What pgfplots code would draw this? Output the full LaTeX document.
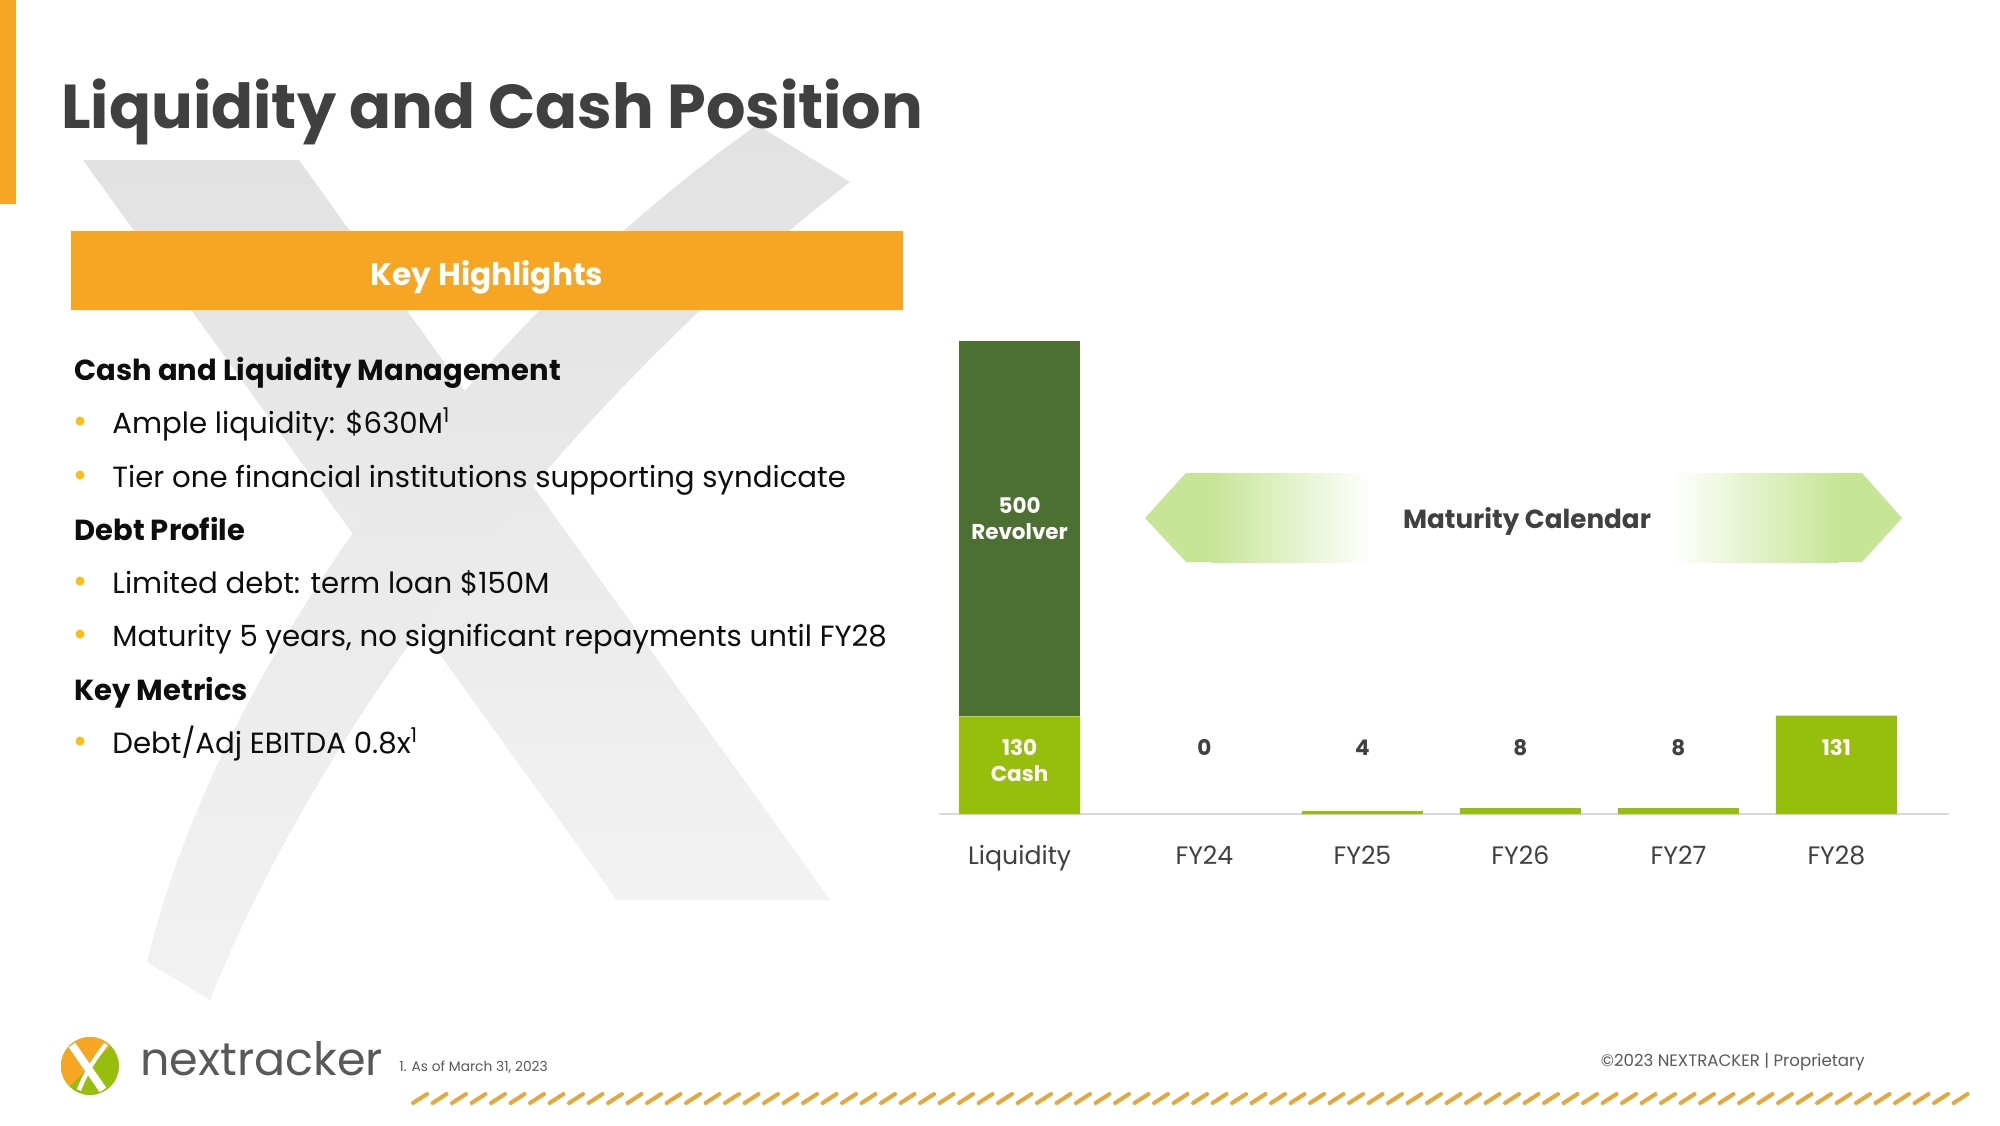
\documentclass[border=0pt]{standalone}
\usepackage{pgfplots}
\pgfplotsset{compat=1.18}
\usepackage{fontspec}
\setmainfont{Poppins}
\definecolor{nxorange}{RGB}{246,166,35}
\definecolor{bulletc}{RGB}{252,190,20}
\definecolor{darkgreen}{RGB}{76,112,50}
\definecolor{lightgreen}{RGB}{151,190,13}
\definecolor{arrowgreen}{RGB}{198,229,150}
\definecolor{titlegray}{RGB}{64,64,64}
\definecolor{textblack}{RGB}{13,13,13}
\definecolor{footgray}{RGB}{89,89,89}
\definecolor{wmtop}{RGB}{226,226,226}
\definecolor{wmbot}{RGB}{242,242,242}
\definecolor{hatchc}{RGB}{230,168,58}
\definecolor{axisgray}{RGB}{217,217,217}
\newcommand{\hfont}{\fontsize{14.5pt}{17pt}\selectfont\bfseries}
\newcommand{\bfont}{\fontsize{14.6pt}{17pt}\selectfont}
\newcommand{\lfont}{\fontsize{10.75pt}{12.85pt}\selectfont\bfseries}
\begin{document}
\begin{tikzpicture}
\path[use as bounding box] (0pt,0pt) rectangle (1000pt,-562.5pt);
\fill[white] (0pt,0pt) rectangle (1000pt,-562.5pt);
\begin{scope}[x=0.5pt,y=-0.5pt]
  % watermark X
  \shade[top color=wmtop,bottom color=wmbot] (83,160)--(299,160)--(830,900)--(617,900)--cycle;
  \shade[top color=wmtop,bottom color=wmbot] (757,125)--(850,182) .. controls (590,382) and (330,700) .. (210,1000) -- (147,962) .. controls (219,662) and (473,325) .. (757,125) -- cycle;
  % left strip and title
  \fill[nxorange] (0,0) rectangle (16,204);
  \node[anchor=base west, inner sep=0, text=titlegray, font=\fontsize{31pt}{31pt}\selectfont\bfseries] at (61,128) {Liquidity and Cash Position};
  % key highlights box
  \fill[nxorange] (71,231) rectangle (903,310);
  \node[anchor=base, inner sep=0, text=white, font=\fontsize{15.6pt}{18pt}\selectfont\bfseries] at (487,285) {Key Highlights};
  % text
  \node[anchor=base west, inner sep=0, text=textblack, font=\hfont] at (74,380) {Cash and Liquidity Management};
  \node[anchor=base west, inner sep=0, text=textblack, font=\bfont] at (112,433) {Ample liquidity: \$630M\textsuperscript{1}};
  \node[anchor=base west, inner sep=0, text=textblack, font=\bfont] at (112,487) {Tier one financial institutions supporting syndicate};
  \node[anchor=base west, inner sep=0, text=textblack, font=\hfont] at (74,540) {Debt Profile};
  \node[anchor=base west, inner sep=0, text=textblack, font=\bfont] at (112,593) {Limited debt: term loan \$150M};
  \node[anchor=base west, inner sep=0, text=textblack, font=\bfont] at (112,646) {Maturity 5 years, no significant repayments until FY28};
  \node[anchor=base west, inner sep=0, text=textblack, font=\hfont] at (74,700) {Key Metrics};
  \node[anchor=base west, inner sep=0, text=textblack, font=\bfont] at (112,753) {Debt/Adj EBITDA 0.8x\textsuperscript{1}};
  \foreach \yy in {433,487,593,646,753} {\fill[bulletc] (80,\yy-12) circle (4.5);}
  % maturity calendar arrow
  \fill[arrowgreen] (1145,518)--(1186,473)--(1213,473)--(1213,562)--(1186,562)--cycle;
  \shade[left color=arrowgreen,right color=white] (1211,473) rectangle (1371,562);
  \shade[left color=white,right color=arrowgreen] (1671,473) rectangle (1838,562);
  \fill[arrowgreen] (1836,473)--(1862,473)--(1902,518)--(1862,562)--(1836,562)--cycle;
  \node[anchor=base, inner sep=0, text=titlegray, font=\fontsize{13.1pt}{15pt}\selectfont\bfseries] at (1527,528) {Maturity Calendar};
  % footer logo
  \begin{scope}
    \clip (90,1066) circle (29);
    \fill[lightgreen] (55,1030) rectangle (125,1102);
    \fill[nxorange] (55,1101)--(125,1031)--(55,1031)--cycle;
    \draw[white, line width=4pt] (72,1045)--(103,1090);
    \draw[white, line width=2.2pt] (106,1044) .. controls (94,1060) and (86,1072) .. (79,1090);
  \end{scope}
  \node[anchor=base west, inner sep=0, text=footgray, font=\fontsize{23pt}{23pt}\selectfont] at (140,1075) {nextracker};
  \node[anchor=base west, inner sep=0, text=footgray, font=\fontsize{6.9pt}{8pt}\selectfont] at (399,1071) {1. As of March 31, 2023};
  \node[anchor=base east, inner sep=0, text=footgray, font=\fontsize{8.3pt}{10pt}\selectfont] at (1865,1066) {©2023 NEXTRACKER | Proprietary};
  \foreach \i in {0,...,79} {\draw[hatchc, line width=2pt, line cap=round] ({413+\i*19.5},1103) -- ({427+\i*19.5},1094);}
\end{scope}
\begin{axis}[
  at={(469.5pt,-407pt)}, anchor=south west,
  scale only axis, width=504.8pt, height=236.5pt,
  xmin=-0.51, xmax=5.88, ymin=0, ymax=630,
  ybar stacked, bar width=60.5pt,
  axis y line=none, axis x line*=bottom,
  x axis line style={draw=axisgray, line width=1.3pt, -},
  ytick=\empty,
  xtick={0,1.17,2.17,3.17,4.17,5.17},
  xticklabels={Liquidity,FY24,FY25,FY26,FY27,FY28},
  major tick length=0pt,
  xticklabel style={anchor=base, yshift=-25pt, text=titlegray, font=\fontsize{12.6pt}{14pt}\selectfont},
  clip=false,
]
\addplot[fill=lightgreen, draw=none] coordinates {(0,130) (1.17,0) (2.17,4) (3.17,8) (4.17,8) (5.17,131)};
\addplot[fill=darkgreen, draw=none] coordinates {(0,500) (1.17,0) (2.17,0) (3.17,0) (4.17,0) (5.17,0)};
\coordinate (lcash) at (axis cs:0,71.3);
\coordinate (lrev) at (axis cs:0,393.6);
\coordinate (l24) at (axis cs:1.17,78.6);
\coordinate (l25) at (axis cs:2.17,78.6);
\coordinate (l26) at (axis cs:3.17,78.6);
\coordinate (l27) at (axis cs:4.17,78.6);
\coordinate (l28) at (axis cs:5.17,78.6);
\end{axis}
\node[align=center, text=white, font=\lfont] at (lcash) {130\\Cash};
\node[align=center, text=white, font=\lfont] at (lrev) {500\\Revolver};
\node[anchor=base, text=titlegray, font=\lfont] at (l24) {0};
\node[anchor=base, text=titlegray, font=\lfont] at (l25) {4};
\node[anchor=base, text=titlegray, font=\lfont] at (l26) {8};
\node[anchor=base, text=titlegray, font=\lfont] at (l27) {8};
\node[anchor=base, text=white, font=\lfont] at (l28) {131};
\end{tikzpicture}
\end{document}
